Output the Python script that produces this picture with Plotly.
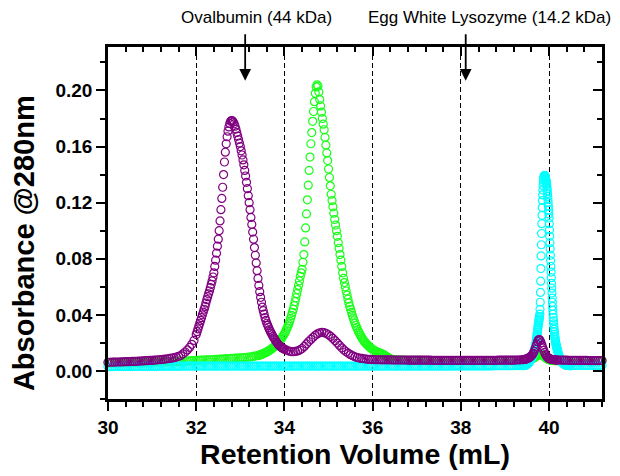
import plotly.graph_objects as go

# ---------------- data ----------------
# Each series is stored as segments: (start volume mL, sampling step mL, absorbance values)

purple_base_left = [.0062, .0062, .0063, .0063, .0064, .0064, .0065, .0065, .0066, .0066,
                    .0067, .0068, .0068, .0069, .0070, .0071, .0072, .0073, .0074, .0075,
                    .0076, .0077, .0078, .0080, .0081, .0083, .0085, .0087, .0089, .0092,
                    .0095, .0099, .0104, .0110, .0122, .0135, .0150, .0168, .0190, .0218]
purple_main_peak = [.0260, .0280, .0300, .0320, .0340, .0360, .0380, .0400, .0420, .0440,
                    .0460, .0484, .0508, .0530, .0550, .0570, .0594, .0618, .0642, .0670,
                    .0700, .0745, .0790, .0840, .0890, .0940, .1000, .1070, .1150, .1230,
                    .1310, .1400, .1490, .1560, .1620, .1670, .1710, .1740, .1765, .1780,
                    .1786, .1784, .1775, .1762, .1745, .1725, .1700, .1675, .1650, .1625,
                    .1600, .1570, .1540, .1505, .1470, .1430, .1390, .1345, .1300, .1250,
                    .1200, .1150, .1095, .1045, .0990, .0940, .0880, .0825, .0770, .0715,
                    .0660, .0610, .0565, .0525, .0490, .0455, .0430, .0405, .0380, .0360,
                    .0340, .0325, .0310, .0295, .0282, .0270, .0258, .0246, .0236, .0226,
                    .0216, .0206, .0197, .0189, .0182, .0176, .0171, .0166, .0162, .0158]
purple_mid = [.0155, .0148, .0142, .0138, .0137, .0139, .0143, .0150, .0160, .0175,
              .0193, .0210, .0225, .0240, .0254, .0265, .0272, .0275, .0273, .0267,
              .0258, .0246, .0232, .0216, .0199, .0182, .0165, .0150, .0137, .0126,
              .0116, .0108, .0101, .0096, .0092, .0089, .0087, .0085, .0083, .0082,
              .0081,
              .0080, .0080, .0080, .0079, .0079, .0079, .0079, .0079, .0078, .0078,
              .0078, .0078, .0078, .0078, .0078, .0077, .0077, .0077, .0077, .0077,
              .0077, .0077, .0077, .0077, .0077, .0077, .0076, .0076, .0076, .0076,
              .0076, .0076, .0076, .0076, .0076, .0076, .0076, .0076, .0076, .0076,
              .0076, .0076, .0076, .0076, .0076, .0076, .0076, .0076, .0076, .0076,
              .0076, .0076, .0076, .0076, .0076, .0076, .0077, .0077, .0077, .0077,
              .0077, .0077, .0077, .0077, .0078, .0078, .0079, .0080]
purple_small_peak = [.0081, .0082, .0083, .0085, .0087, .0090, .0093, .0097, .0102, .0108,
                     .0116, .0126, .0139, .0155, .0173, .0192, .0210, .0222, .0224, .0216,
                     .0201, .0183, .0164, .0146, .0130, .0117, .0107, .0099, .0093, .0089,
                     .0086, .0084, .0082, .0081, .0080, .0079, .0079, .0078, .0078, .0078]
purple_tail = [.0078, .0077, .0077, .0077, .0076, .0076, .0076, .0076, .0075, .0075,
               .0075, .0075, .0075, .0074, .0074, .0074, .0074, .0074, .0074, .0074]

green_base_left = [.0056, .0056, .0057, .0057, .0057, .0058, .0058, .0058, .0059, .0059,
                   .0059, .0060, .0060, .0060, .0061, .0061, .0061, .0062, .0062, .0062,
                   .0063, .0063, .0064, .0064, .0065, .0065, .0066, .0066, .0067, .0067,
                   .0068, .0068, .0069, .0069, .0070, .0070, .0071, .0072, .0073, .0074,
                   .0075, .0076, .0077, .0078, .0078, .0079, .0080, .0080, .0081, .0082,
                   .0083, .0084, .0085, .0086, .0087, .0088, .0089, .0090, .0091, .0092,
                   .0093, .0094, .0096, .0097, .0099, .0101, .0104, .0107, .0110]
green_main_peak = [.0112, .0114, .0116, .0118, .0120, .0123, .0126, .0129, .0132, .0135,
                   .0139, .0143, .0147, .0151, .0155, .0160, .0165, .0170, .0175, .0180,
                   .0187, .0194, .0201, .0208, .0215, .0225, .0235, .0245, .0255, .0265,
                   .0278, .0292, .0306, .0320, .0335, .0355, .0375, .0396, .0418, .0440,
                   .0466, .0494, .0522, .0551, .0580, .0610, .0642, .0675, .0700, .0725,
                   .0775, .0830, .0920, .1020, .1120, .1220, .1325, .1430, .1525, .1620,
                   .1700, .1780, .1850, .1920, .1980, .2025, .2040, .2030, .1990, .1935,
                   .1890, .1845, .1800, .1760, .1720, .1665, .1610, .1555, .1500, .1440,
                   .1380, .1320, .1260, .1215, .1170, .1125, .1080, .1040, .1000, .0960,
                   .0915, .0875, .0830, .0790, .0745, .0700, .0660, .0630, .0600, .0570,
                   .0540, .0512, .0485, .0460, .0440, .0418, .0397, .0377, .0358, .0340,
                   .0324, .0309, .0294, .0280, .0268, .0256, .0244, .0234, .0224, .0215,
                   .0207, .0200, .0193, .0186, .0180, .0174, .0168, .0163, .0158, .0153,
                   .0149, .0145, .0141, .0138, .0135, .0132, .0129, .0127, .0125, .0123,
                   .0120, .0117, .0113, .0109, .0105, .0101, .0097, .0093, .0089, .0085]
green_mid = [.0082, .0080, .0079, .0078, .0077, .0077, .0076, .0076, .0076, .0075,
             .0075, .0075, .0075, .0075, .0074, .0074, .0074, .0074, .0074, .0074,
             .0074, .0074, .0074, .0074, .0074, .0073, .0073, .0073, .0073, .0073,
             .0073, .0073, .0073, .0073, .0073, .0073, .0073, .0073, .0073, .0073,
             .0073, .0073, .0073, .0073, .0073, .0073, .0073, .0073, .0073, .0073,
             .0073, .0073, .0073, .0073, .0073, .0073, .0073, .0073, .0074, .0074]
green_small_peak = [.0074, .0075, .0075, .0076, .0077, .0078, .0079, .0080, .0082, .0084,
                    .0087, .0090, .0094, .0098, .0103, .0108, .0112, .0115, .0117, .0118,
                    .0117, .0114, .0110, .0105, .0100, .0095, .0090, .0086, .0083, .0080,
                    .0078, .0077, .0076, .0075, .0075, .0074, .0074, .0074, .0073, .0073]
green_tail = [.0073, .0073, .0073, .0073, .0073, .0073, .0073, .0073, .0073, .0073,
              .0073, .0073, .0073, .0073, .0073, .0073, .0073, .0073, .0073, .0073]

cyan_base = [.0031, .0031, .0031, .0032, .0032, .0032, .0032, .0032, .0032, .0032,
             .0032, .0032, .0033, .0033, .0033, .0033, .0033, .0033, .0033, .0033,
             .0033, .0033, .0033, .0034, .0034, .0034, .0034, .0034, .0034, .0034,
             .0034, .0034, .0034, .0034, .0035, .0035, .0035, .0035, .0035, .0035,
             .0035, .0035, .0035, .0035, .0035, .0035, .0035, .0035, .0035, .0035,
             .0035, .0035, .0035, .0035, .0035, .0035, .0035, .0035, .0035, .0035,
             .0035, .0035, .0035, .0035, .0035, .0035, .0035, .0035, .0035, .0035,
             .0035, .0035, .0035, .0035, .0035, .0035, .0035, .0035, .0035, .0035,
             .0035, .0035, .0035, .0035, .0035, .0035, .0035, .0035, .0035, .0035,
             .0035, .0035, .0035, .0035, .0035, .0035, .0035, .0035, .0035, .0035,
             .0035, .0035, .0035, .0035, .0035, .0035, .0035, .0035, .0035, .0035,
             .0035, .0035, .0035, .0035, .0035, .0035, .0035, .0035, .0035, .0035,
             .0035, .0035, .0035, .0035, .0035, .0035, .0035, .0035, .0035, .0035,
             .0035, .0035, .0035, .0035, .0035, .0035, .0035, .0035, .0035, .0035,
             .0035, .0035, .0035, .0035, .0035, .0035, .0035, .0035, .0035, .0035,
             .0035, .0035, .0035, .0035, .0035, .0035, .0035, .0035, .0036, .0036,
             .0036, .0036, .0036, .0036, .0036, .0036, .0036, .0036, .0036, .0036,
             .0036, .0036, .0036, .0036, .0036, .0037, .0037, .0037, .0037, .0037,
             .0037, .0037, .0037, .0037, .0037, .0038, .0038, .0038, .0038]
cyan_pre_peak = [.0038, .0038, .0039, .0039, .0040, .0041, .0042, .0043, .0045, .0047,
                 .0049, .0052, .0055, .0058, .0062, .0066, .0071, .0076, .0082, .0088,
                 .0095, .0103, .0111, .0120, .0130, .0140, .0151, .0163, .0176]
cyan_peak = [.0190, .0202, .0215, .0228, .0240, .0252, .0265, .0277, .0290, .0302,
             .0315, .0327, .0340, .0350, .0360, .0370, .0380, .0390, .0405, .0440,
             .0490, .0560, .0640, .0730, .0820, .0900, .0980, .1050, .1110, .1165,
             .1215, .1255, .1290, .1320, .1345, .1362, .1375, .1384, .1390, .1393,
             .1394, .1393, .1390, .1384, .1375, .1366,
             .1360, .1352, .1342, .1330, .1316, .1300, .1283, .1264, .1244, .1223,
             .1200, .1175, .1148, .1120, .1090, .1050, .1005, .0960, .0915, .0870,
             .0825, .0785, .0745, .0705, .0665, .0625, .0590, .0555, .0520, .0490,
             .0460, .0432, .0405, .0380, .0357, .0335, .0315, .0296, .0279, .0263,
             .0249, .0236, .0224, .0213, .0203, .0194, .0186, .0179, .0172, .0166,
             .0160, .0154, .0148, .0142]
cyan_post_peak = [.0136, .0125, .0115, .0105, .0096, .0088, .0081, .0075, .0069, .0064,
                  .0060, .0056, .0053, .0050, .0048, .0046, .0044, .0043, .0042, .0041,
                  .0040, .0040, .0039, .0039, .0039, .0038, .0038, .0038, .0038, .0038, .0038]
cyan_tail = [.0039, .0039, .0040, .0040, .0040, .0040, .0040, .0040, .0040, .0040,
             .0040, .0040, .0040, .0040]

purple_segments = [(30.00, 0.05, purple_base_left), (32.00, 0.02, purple_main_peak),
                   (34.00, 0.05, purple_mid), (39.42, 0.02, purple_small_peak),
                   (40.25, 0.05, purple_tail)]
green_segments = [(30.00, 0.05, green_base_left), (33.42, 0.02, green_main_peak),
                  (36.45, 0.05, green_mid), (39.42, 0.02, green_small_peak),
                  (40.25, 0.05, green_tail)]
cyan_segments = [(30.00, 0.05, cyan_base), (39.41, 0.01, cyan_pre_peak),
                 (39.70, 0.005, cyan_peak), (40.20, 0.01, cyan_post_peak),
                 (40.55, 0.05, cyan_tail)]

x_ticks = [30, 32, 34, 36, 38, 40]
y_ticks = [0.00, 0.04, 0.08, 0.12, 0.16, 0.20]
x_range = [30, 41.2]
y_range = [-0.02, 0.231]

x_title = "Retention Volume (mL)"
y_title = "Absorbance @280nm"

arrow_x = [33.11, 38.11]
arrow_tip_y = [0.207, 0.207]
label_texts = ["Ovalbumin (44 kDa)", "Egg White Lysozyme (14.2 kDa)"]
label_x = [33.36, 38.64]


def build(segments):
    xs, ys = [], []
    for x0, step, vals in segments:
        for i, v in enumerate(vals):
            xs.append(round(x0 + i * step, 4))
            ys.append(v)
    return xs, ys


FONT = "Liberation Sans, Arial, Helvetica, sans-serif"

fig = go.Figure()
for segs, color in [(green_segments, "#1aff1a"), (cyan_segments, "#00ffff"),
                    (purple_segments, "#800080")]:
    xs, ys = build(segs)
    fig.add_trace(go.Scatter(
        x=xs, y=ys, mode="markers", cliponaxis=False, showlegend=False,
        marker=dict(symbol="circle-open", size=8, color=color, line=dict(width=1.2)),
    ))

# helper trace so the mirrored (inward-tick) top/right axes get drawn
fig.add_trace(go.Scatter(x=[None], y=[None], xaxis="x2", yaxis="y2",
                         showlegend=False, hoverinfo="skip"))

axis_common = dict(showline=True, linewidth=2.5, linecolor="black", zeroline=False,
                   tickcolor="black", tickwidth=2, ticklen=9, automargin=False)

fig.update_layout(
    width=620, height=476,
    margin=dict(l=100, r=26, t=39, b=85),
    plot_bgcolor="white", paper_bgcolor="white",
    font=dict(family=FONT, color="black"),
    xaxis=dict(range=x_range, tickmode="array", tickvals=x_ticks, ticks="outside",
               showgrid=True, gridcolor="black", gridwidth=1, griddash="5px,3px",
               tickfont=dict(size=19, weight="bold"),
               minor=dict(tickmode="linear", tick0=30, dtick=0.4, ticks="outside",
                          ticklen=5.5, tickwidth=2, tickcolor="black", showgrid=False),
               title=dict(text=x_title, font=dict(size=28.5, weight="bold"), standoff=7),
               **axis_common),
    yaxis=dict(range=y_range, tickmode="array", tickvals=y_ticks, tickformat=".2f",
               ticks="outside", showgrid=False,
               tickfont=dict(size=19, weight="bold"),
               minor=dict(tickmode="linear", tick0=0, dtick=0.02, ticks="outside",
                          ticklen=5.5, tickwidth=2, tickcolor="black", showgrid=False),
               **axis_common),
    xaxis2=dict(range=x_range, overlaying="x", side="top", anchor="y2",
                tickmode="array", tickvals=x_ticks, ticks="inside", showticklabels=False,
                showgrid=False,
                minor=dict(tickmode="linear", tick0=30, dtick=0.4, ticks="inside",
                           ticklen=5.5, tickwidth=2, tickcolor="black", showgrid=False),
                **axis_common),
    yaxis2=dict(range=y_range, overlaying="y", side="right", anchor="x2",
                tickmode="array", tickvals=y_ticks, ticks="inside", showticklabels=False,
                showgrid=False,
                minor=dict(tickmode="linear", tick0=0, dtick=0.02, ticks="inside",
                           ticklen=5.5, tickwidth=2, tickcolor="black", showgrid=False),
                **axis_common),
)

# y-axis title (sits a little below the plot centre in the reference)
fig.add_annotation(x=-0.17, y=0.443, xref="paper", yref="paper", text=y_title,
                   textangle=-90, showarrow=False, xanchor="center", yanchor="middle",
                   font=dict(size=29, weight="bold", family=FONT, color="black"))

for ax_x, tip_y in zip(arrow_x, arrow_tip_y):
    fig.add_annotation(x=ax_x, y=tip_y, xref="x", yref="y", text="", showarrow=True,
                       ax=0, ay=-48, arrowhead=2, arrowsize=1.3, arrowwidth=1.8,
                       arrowcolor="black", standoff=0)

for txt, lx in zip(label_texts, label_x):
    fig.add_annotation(x=lx, y=1.084, xref="x", yref="paper", text=txt, showarrow=False,
                       font=dict(size=17, family=FONT, color="black"),
                       xanchor="center", yanchor="middle")

fig.write_html("out.html")
